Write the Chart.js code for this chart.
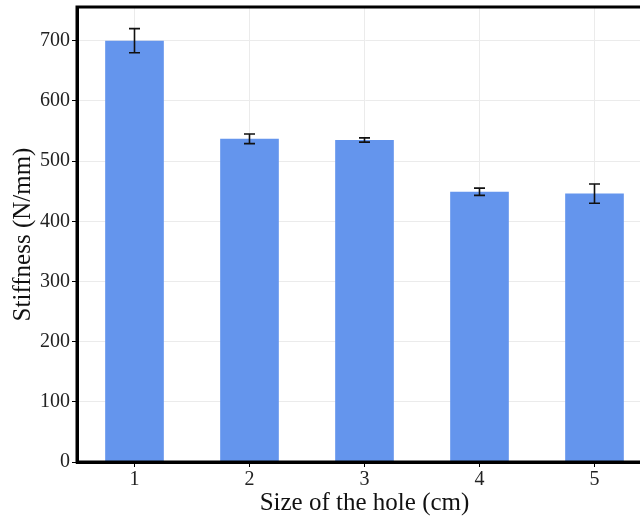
<!DOCTYPE html>
<html>
<head>
<meta charset="utf-8">
<script src="https://cdn.jsdelivr.net/npm/chart.js@4/dist/chart.umd.min.js"></script>
<style>
  html, body { margin: 0; padding: 0; background: #fff; overflow: hidden; }
  #wrap { position: relative; width: 656px; height: 518px; }
</style>
</head>
<body>
<div id="wrap"><canvas id="stiffChart" width="656" height="518"></canvas></div>
<script>
const holeSizes = ["1", "2", "3", "4", "5"];
const stiffness = [700, 537, 535, 449, 446];
const stiffErr = [20, 8, 3.5, 6, 16];
const yTicks = [0, 100, 200, 300, 400, 500, 600, 700];

const serif = "'Liberation Serif', 'Times New Roman', serif";

/* error bars + frame */
const errorBars = {
  id: "errorBars",
  afterDatasetsDraw(c) {
    const ctx = c.ctx, y = c.scales.y;
    const meta = c.getDatasetMeta(0);
    ctx.save();
    ctx.strokeStyle = "#111";
    ctx.lineWidth = 1.6;
    meta.data.forEach((bar, i) => {
      const top = y.getPixelForValue(stiffness[i] + stiffErr[i]);
      const bot = y.getPixelForValue(stiffness[i] - stiffErr[i]);
      const x = bar.x, w = 5.5;
      ctx.beginPath();
      ctx.moveTo(x, top); ctx.lineTo(x, bot);
      ctx.moveTo(x - w, top); ctx.lineTo(x + w, top);
      ctx.moveTo(x - w, bot); ctx.lineTo(x + w, bot);
      ctx.stroke();
    });
    ctx.restore();
  },
  afterDraw(c) {
    const a = c.chartArea, ctx = c.ctx;
    ctx.save();
    ctx.strokeStyle = "#000";
    ctx.lineWidth = 3;
    ctx.strokeRect(a.left, a.top, a.right - a.left, a.bottom - a.top);
    ctx.restore();
  }
};

new Chart(stiffChart, {
  type: "bar",
  data: {
    labels: holeSizes,
    datasets: [{
      data: stiffness,
      backgroundColor: "#6495ED",
      borderWidth: 0,
      barPercentage: 0.51,
      categoryPercentage: 1
    }]
  },
  options: {
    responsive: false,
    animation: false,
    devicePixelRatio: 1,
    layout: { padding: { top: 7, right: 4, left: 0, bottom: 0 } },
    plugins: { legend: { display: false }, tooltip: { enabled: false } },
    scales: {
      x: {
        grid: { offset: false, color: "#ebebeb", tickLength: 5, tickColor: "#000" },
        border: { color: "#000", width: 3 },
        ticks: { color: "#222", font: { family: serif, size: 20 }, padding: 1 },
        title: { display: true, text: "Size of the hole (cm)", color: "#111",
                 font: { family: serif, size: 25 }, padding: { top: 0, bottom: 0 } },
        afterFit: s => { s.height = 56; }
      },
      y: {
        min: 0, max: 756,
        afterBuildTicks: s => { s.ticks = yTicks.map(v => ({ value: v })); },
        grid: { color: "#ebebeb", tickLength: 5, tickColor: "#000" },
        border: { color: "#000", width: 3 },
        ticks: { color: "#222", font: { family: serif, size: 20 }, padding: 2 },
        title: { display: true, text: "Stiffness (N/mm)", color: "#111",
                 font: { family: serif, size: 25 }, padding: { top: 8, bottom: 0 } },
        afterFit: s => { s.width = 77; s.paddingTop = 0; }
      }
    }
  },
  plugins: [errorBars]
});
</script>
</body>
</html>
